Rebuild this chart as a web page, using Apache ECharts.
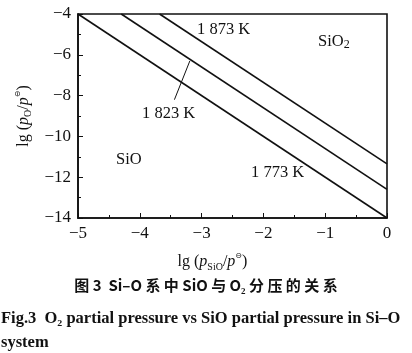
<!DOCTYPE html>
<html>
<head>
<meta charset="utf-8">
<script src="https://cdn.jsdelivr.net/npm/echarts@6/dist/echarts.min.js"></script>
<style>
html, body { margin: 0; padding: 0; background: #fff; }
#chart { width: 412px; height: 353px; }
</style>
</head>
<body>
<div id="chart"></div>
<script>
// 三条等温线 lg(pSiO) - lg(pO2)，读图估计端点
var line1773 = [[-5, -4], [0, -14]];
var line1823 = [[-4.3, -4], [0, -12.6]];
var line1873 = [[-3.68, -4], [0, -11.35]];
// 1 823 K 的引线
var leader1823 = [[-3.44, -8.2], [-3.19, -6.3]];
var xTicks = [-5, -4, -3, -2, -1, 0];
var yTicks = [-14, -12, -10, -8, -6, -4];

var serif = 'Liberation Serif';
var chart = echarts.init(document.getElementById('chart'));

function minus (v) { return String(v).replace('-', '\u2212'); }

var lineStyle = { color: '#111', width: 1.6 };
var nameRich = {
  n: { fontFamily: serif, fontSize: 16, color: '#111', lineHeight: 20 },
  i: { fontFamily: serif, fontSize: 16, fontStyle: 'italic', color: '#111', lineHeight: 20 },
  s: { fontFamily: serif, fontSize: 10, color: '#111', lineHeight: 10, verticalAlign: 'bottom' },
  u: { fontFamily: 'DejaVu Sans', fontSize: 8, color: '#111', lineHeight: 10, verticalAlign: 'top' }
};

chart.setOption({
  animation: false,
  grid: { left: 78, right: 25, top: 14, bottom: 135, show: true, borderColor: '#111', borderWidth: 1.6 },
  xAxis: {
    type: 'value', position: 'bottom',
    min: xTicks[0], max: xTicks[xTicks.length - 1], interval: 1,
    name: '{n|lg (}{i|p}{s|SiO}{n|/}{i|p}{u|\u2296}{n|)}',
    nameLocation: 'middle', nameGap: 34,
    nameTextStyle: { rich: nameRich, padding: [0, 40, 0, 0] },
    axisLine: { onZero: false, lineStyle: { color: '#111', width: 1.6 } },
    axisTick: { inside: true, length: 5, lineStyle: { color: '#111' } },
    minorTick: { show: true, splitNumber: 2, length: 3, lineStyle: { color: '#111' } },
    splitLine: { show: false },
    axisLabel: { fontFamily: serif, fontSize: 17, color: '#111', margin: 7, formatter: minus }
  },
  yAxis: {
    type: 'value', position: 'left',
    min: yTicks[0], max: yTicks[yTicks.length - 1], interval: 2,
    name: '{n|lg (}{i|p}{s|O}{n|/}{i|p}{u|\u2296}{n|)}',
    nameLocation: 'middle', nameGap: 39, nameRotate: 90,
    nameTextStyle: { rich: nameRich },
    axisLine: { show: true, onZero: false, lineStyle: { color: '#111', width: 1.6 } },
    axisTick: { show: true, inside: true, length: 5, lineStyle: { color: '#111' } },
    minorTick: { show: true, splitNumber: 2, length: 3, lineStyle: { color: '#111' } },
    splitLine: { show: false },
    axisLabel: { fontFamily: serif, fontSize: 17, color: '#111', margin: 7, formatter: minus }
  },
  series: [
    { type: 'line', data: line1773, symbol: 'none', lineStyle: lineStyle },
    { type: 'line', data: line1823, symbol: 'none', lineStyle: lineStyle },
    { type: 'line', data: line1873, symbol: 'none', lineStyle: lineStyle },
    { type: 'line', data: leader1823, symbol: 'none', lineStyle: { color: '#111', width: 1 } }
  ],
  graphic: [
    { type: 'text', left: 197, top: 21, style: { text: '1 873 K', font: '16.5px "Liberation Serif"', fill: '#111' } },
    { type: 'text', left: 318, top: 33, style: {
      text: '{a|SiO}{b|2}',
      rich: {
        a: { fontFamily: serif, fontSize: 16.5, fill: '#111', lineHeight: 19 },
        b: { fontFamily: serif, fontSize: 12, fill: '#111', lineHeight: 14, verticalAlign: 'bottom' }
      }
    } },
    { type: 'text', left: 142, top: 105, style: { text: '1 823 K', font: '16.5px "Liberation Serif"', fill: '#111' } },
    { type: 'text', left: 116, top: 151, style: { text: 'SiO', font: '16.5px "Liberation Serif"', fill: '#111' } },
    { type: 'text', left: 251, top: 164, style: { text: '1 773 K', font: '16.5px "Liberation Serif"', fill: '#111' } },
    { type: 'text', left: 'center', top: 278, style: {
      text: '图 3  Si–O 系 中 SiO 与 O₂ 分 压 的 关 系',
      font: 'bold 15px "Noto Sans CJK SC"', fill: '#111'
    } },
    { type: 'text', left: 1, top: 310, style: {
      text: 'Fig.3  O₂ partial pressure vs SiO partial pressure in Si–O',
      font: 'bold 16.5px "Liberation Serif"', fill: '#111'
    } },
    { type: 'text', left: 1, top: 334, style: {
      text: 'system', font: 'bold 16.5px "Liberation Serif"', fill: '#111'
    } }
  ]
});
</script>
</body>
</html>
